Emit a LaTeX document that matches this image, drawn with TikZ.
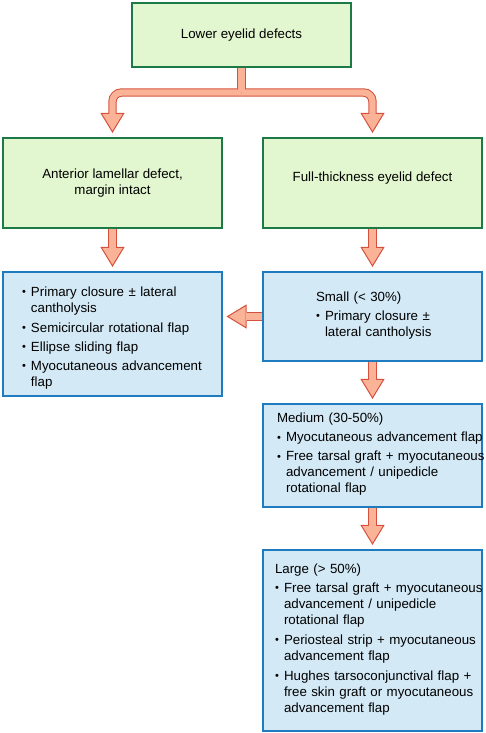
\documentclass[tikz,border=0pt]{standalone}
\usepackage{fontspec}
\setmainfont{Liberation Sans}
\usetikzlibrary{arrows.meta}

\definecolor{lidgreen}{HTML}{E2F6CF}
\definecolor{lidgreenline}{HTML}{1C7A46}
\definecolor{lidblue}{HTML}{D3E9F6}
\definecolor{lidblueline}{HTML}{1F7BBF}
\definecolor{arrowfill}{HTML}{FBB398}
\definecolor{arrowline}{HTML}{D5513D}

% bullet item, its lines kept as typed
\newcommand{\lidbullet}{\raisebox{0.8pt}{\fontsize{11}{11}\selectfont\textbullet}}
\newcommand{\lid}[1]{\par\makebox[9pt][l]{\lidbullet}\begin{tabular}[t]{@{}l@{}}#1\end{tabular}}
\newcommand{\lidfont}{\fontsize{13.3}{16}\selectfont\setlength{\parindent}{0pt}\setlength{\parskip}{3pt}}
\hfuzz=60pt

\tikzset{
	greenbox/.style={draw=lidgreenline, fill=lidgreen, line width=1.6pt, align=center},
	bluebox/.style={draw=lidblueline, fill=lidblue, line width=1.6pt, align=left, inner sep=2pt, font=\lidfont},
	arrowout/.style={draw=arrowline, line width=8.4pt, shorten >=24pt},
	arrowtip/.style={draw=arrowline, line width=1pt, shorten >=4pt,
		-{Triangle[width=24pt,length=20pt,fill=arrowfill]}},
	arrowin/.style={draw=arrowfill, line width=6.4pt, shorten >=23pt},
}

\begin{document}
\begin{tikzpicture}[x=1pt, y=-1pt, font=\fontsize{13.3}{16}\selectfont]
	\useasboundingbox (0,0) rectangle (485,733);
	
	\node [name=top, greenbox, minimum width=219.5pt, minimum height=63.5pt] at (241.5,35) {Lower eyelid defects};
	
	\node [name=ant, greenbox, minimum width=218.5pt, minimum height=90.5pt] at (112.5,183) {Anterior lamellar defect,\\margin intact};
	\node [name=full, greenbox, minimum width=219.5pt, minimum height=90.5pt] at (372.5,183) {Full-thickness eyelid defect\\[-3pt]\mbox{}};
	
	\node [name=antlist, bluebox, text width=181pt, minimum width=218.5pt, minimum height=124.5pt] at (112.5,334) {%
		\lid{Primary closure ± lateral\\cantholysis}
		\lid{Semicircular rotational flap}
		\lid{Ellipse sliding flap}
		\lid{Myocutaneous advancement\\flap}};
	
	\node [name=small, bluebox, text width=113pt, minimum width=219.5pt, minimum height=89.5pt] at (372.5,316.5) {%
		Small (< 30\%)
		\lid{Primary closure ±\\lateral cantholysis}};
	
	\node [name=medium, bluebox, text width=191pt, minimum width=219.5pt, minimum height=103.5pt] at (372.5,455.5) {%
		Medium (30-50\%)
		\lid{Myocutaneous advancement flap}
		\lid{Free tarsal graft + myocutaneous\\advancement / unipedicle\\rotational flap}};
	
	\node [name=large, bluebox, text width=195pt, minimum width=219.5pt, minimum height=181.5pt] at (372.5,640.5) {%
		Large (> 50\%)
		\lid{Free tarsal graft + myocutaneous\\advancement / unipedicle\\rotational flap}
		\lid{Periosteal strip + myocutaneous\\advancement flap}
		\lid{Hughes tarsoconjunctival flap +\\free skin graft or myocutaneous\\advancement flap}};
	
	\coordinate (fork) at (241.5,92.5);
	
	% block arrows: outline, then tips, then fill
	\foreach \pass in {arrowout,arrowtip,arrowin} {
		\draw [\pass, shorten >=0pt, -] (top.south) -- (fork);
		\draw [\pass, rounded corners=9pt] (fork) -| (ant.north);
		\draw [\pass, rounded corners=9pt] (fork) -| (full.north);
		\draw [\pass] (ant.south) -- (antlist.north);
		\draw [\pass] (full.south) -- (small.north);
		\draw [\pass] (small.west) -- (small.west -| antlist.east);
		\draw [\pass] (small.south) -- (medium.north);
		\draw [\pass] (medium.south) -- (large.north);
	}
\end{tikzpicture}
\end{document}
